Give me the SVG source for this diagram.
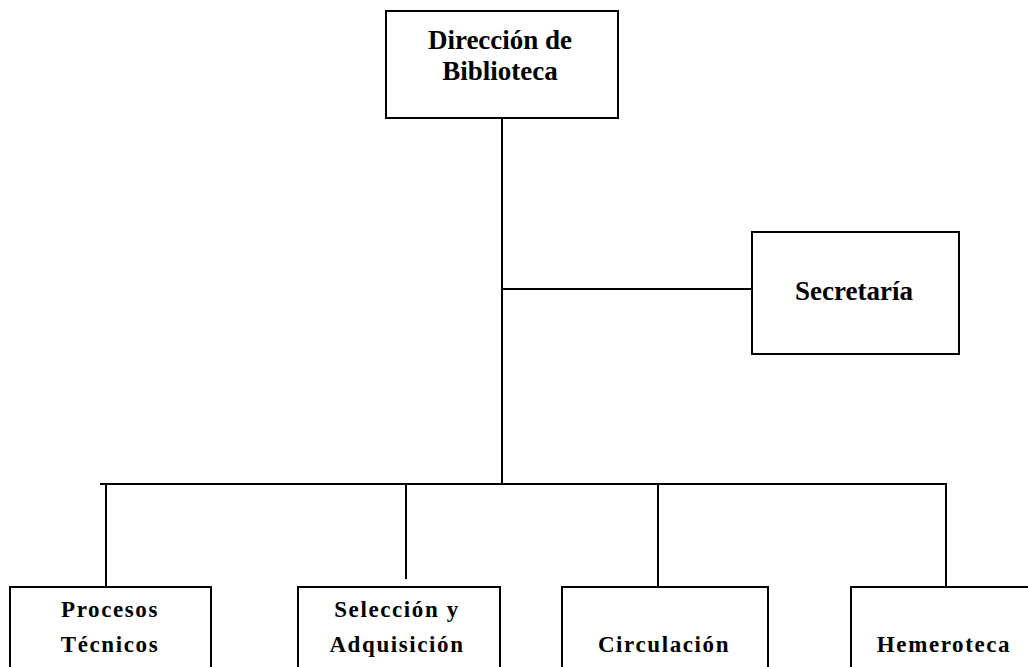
<svg xmlns="http://www.w3.org/2000/svg" width="1028" height="667" viewBox="0 0 1028 667">
<style>
.box{fill:#fff;stroke:#000;stroke-width:2}
.ln{stroke:#000;stroke-width:2;fill:none}
.t{font-family:"Liberation Serif","Times New Roman",serif;font-weight:bold;font-size:27px;fill:#000;text-anchor:middle}
.ts{font-size:23px;letter-spacing:1.6px}
</style>
<rect width="1028" height="667" fill="#fff"/>
<g id="connectors">
<line class="ln" x1="502" y1="118" x2="502" y2="484"/>
<line class="ln" x1="502" y1="289" x2="752" y2="289"/>
<line class="ln" x1="100" y1="484" x2="947" y2="484"/>
<line class="ln" x1="106" y1="484" x2="106" y2="587"/>
<line class="ln" x1="406" y1="484" x2="406" y2="579"/>
<line class="ln" x1="658" y1="484" x2="658" y2="587"/>
<line class="ln" x1="946" y1="484" x2="946" y2="587"/>
</g>
<g id="direccion">
<rect class="box" x="386" y="11" width="232" height="107"/>
<text class="t" x="500" y="49">Dirección de</text>
<text class="t" x="500" y="80">Biblioteca</text>
</g>
<g id="secretaria">
<rect class="box" x="752" y="232" width="207" height="122"/>
<text class="t" x="854" y="300">Secretaría</text>
</g>
<g id="procesos">
<rect class="box" x="10" y="587" width="201" height="100"/>
<text class="t ts" x="110" y="617">Procesos</text>
<text class="t ts" x="110" y="652">Técnicos</text>
</g>
<g id="seleccion">
<rect class="box" x="298" y="587" width="202" height="100"/>
<text class="t ts" x="397" y="617">Selección y</text>
<text class="t ts" x="397" y="652">Adquisición</text>
</g>
<g id="circulacion">
<rect class="box" x="562" y="587" width="206" height="100"/>
<text class="t ts" x="664" y="652">Circulación</text>
</g>
<g id="hemeroteca">
<rect class="box" x="851" y="587" width="200" height="100"/>
<text class="t ts" x="944" y="652">Hemeroteca</text>
</g>
</svg>
